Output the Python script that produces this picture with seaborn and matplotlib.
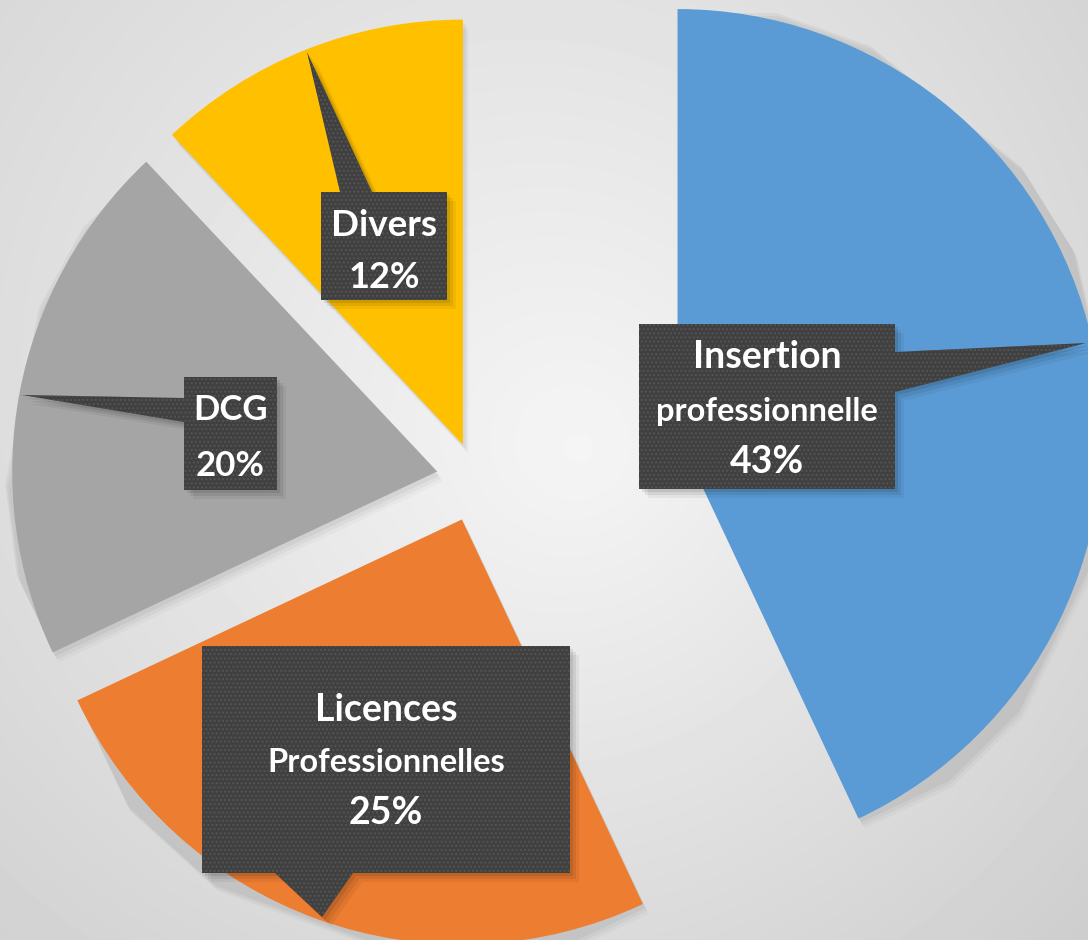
import numpy as np
import matplotlib
matplotlib.use("Agg")
import matplotlib.pyplot as plt
import seaborn as sns
from matplotlib.patches import Polygon

# data
categories = ["Insertion\nprofessionnelle", "Licences\nProfessionnelles", "DCG", "Divers"]
shares = [43, 25, 20, 12]
slice_colors = ["#5B9BD5", "#ED7D31", "#A5A5A5", "#FFC000"]

sns.set_theme(style="white")
plt.rcParams["font.family"] = ["Lato", "DejaVu Sans"]
plt.rcParams["hatch.linewidth"] = 0.9

W, H = 1088, 940
fig = plt.figure(figsize=(W / 100, H / 100), dpi=100)
ax = fig.add_axes([0, 0, 1, 1])

# radial grey background, a bit darker to the bottom right
yy, xx = np.mgrid[0:H, 0:W]
r = np.hypot(xx - 580, yy - 450)
bg = 0.985 - 0.14 * (r / r.max()) - 0.05 * (xx + yy) / (W + H)
ax.imshow(bg, cmap="gray", vmin=0, vmax=1, extent=(0, W, 0, H), origin="upper",
          zorder=0, interpolation="bilinear")

# pie, pixel coordinates (y up)
center = (476.5, H - 479)
explode = [206, 43, 40, 37]
wedges, _ = ax.pie(shares, colors=slice_colors, startangle=90, counterclock=False,
                   radius=425, center=center, explode=explode,
                   wedgeprops=dict(linewidth=0, zorder=2))

# soft shadows under wedges
for w in wedges:
    for k, a in [(10, 0.025), (7, 0.035), (4, 0.045)]:
        sh = Polygon(w.get_path().vertices + [k * 0.6, -k], closed=True,
                     facecolor="black", alpha=a, lw=0, zorder=1,
                     transform=w.get_transform())
        ax.add_patch(sh)

ax.set_xlim(0, W)
ax.set_ylim(0, H)
ax.set_aspect("equal")
ax.axis("off")


def callout(pts):
    pts = np.array([(x, H - y) for x, y in pts])
    for k, a in [(9, 0.05), (6, 0.07), (3, 0.09)]:
        ax.add_patch(Polygon(pts + [k, -k], closed=True, facecolor="black",
                             alpha=a, lw=0, zorder=3))
    ax.add_patch(Polygon(pts, closed=True, facecolor="#404040", lw=0, zorder=4))
    ax.add_patch(Polygon(pts, closed=True, facecolor="none", edgecolor="#555555",
                         hatch="....", lw=0, zorder=5))


boxes = [
    [(639, 324), (895, 324), (895, 352), (1086, 343), (895, 392), (895, 489), (639, 489)],
    [(202, 646), (570, 646), (570, 873), (353, 873), (322, 917), (275, 873), (202, 873)],
    [(184, 377), (277, 377), (277, 490), (184, 490), (184, 422), (22, 395), (184, 398)],
    [(321, 192), (340, 192), (307, 52), (372, 192), (447, 192), (447, 300), (321, 300)],
]
box_x = [(639, 895), (202, 570), (184, 277), (321, 447)]
line_y = [[357, 411, 462], [710, 763, 813], [410, 466], [225, 278]]
line_size = [[27, 23.5, 27], [27, 23.5, 27], [25, 25], [26.5, 26]]

for cat, val, pts, (x0, x1), ys, sz in zip(categories, shares, boxes, box_x,
                                          line_y, line_size):
    callout(pts)
    lines = cat.split("\n") + [f"{val}%"]
    for txt, y, s in zip(lines, ys, sz):
        ax.text((x0 + x1) / 2, H - y, txt, color="white", fontweight="bold",
                fontsize=s, ha="center", va="center", zorder=6)

fig.savefig("out.png", dpi=100)
